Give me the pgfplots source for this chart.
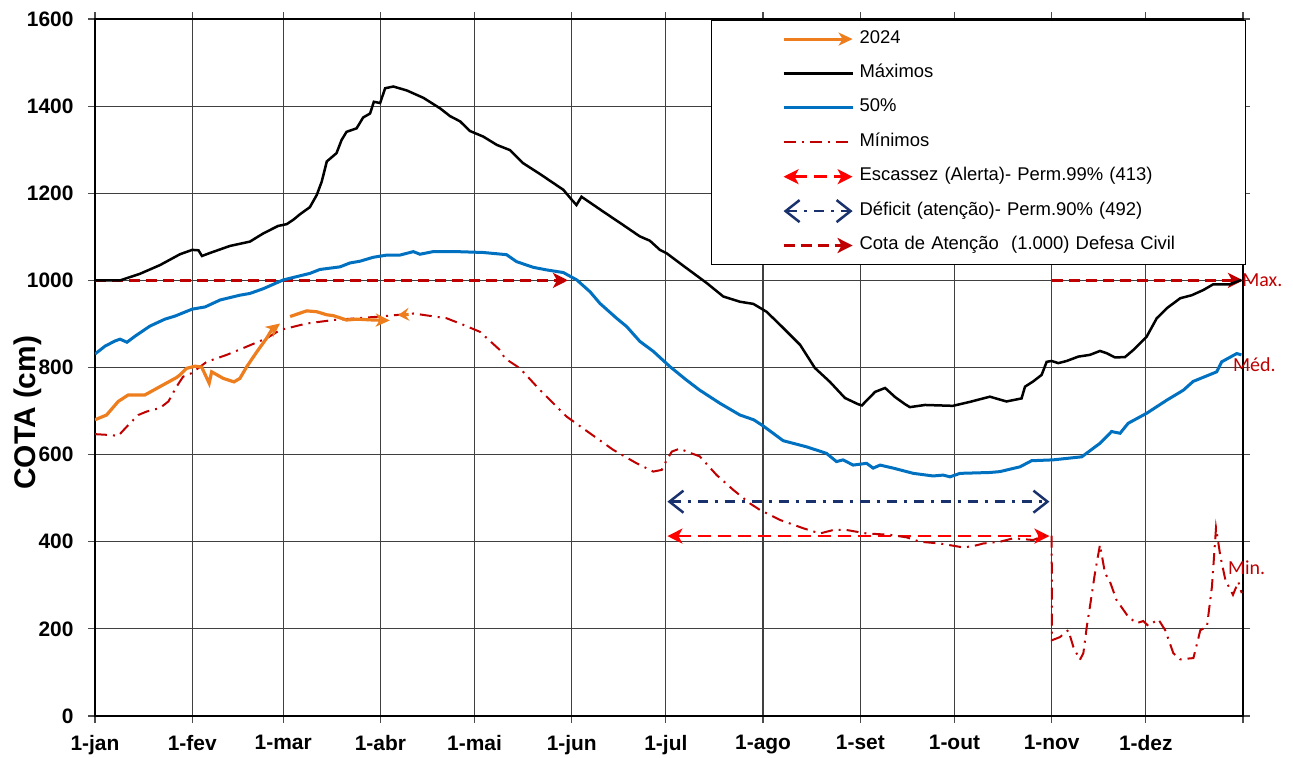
\documentclass[border=0pt]{standalone}
\usepackage{fontspec}
\setmainfont{Liberation Sans}
\newfontfamily\carlito{Carlito}
\usepackage{pgfplots}
\pgfplotsset{compat=1.18}
\usetikzlibrary{arrows.meta}

\definecolor{c24}{RGB}{237,125,29}
\definecolor{cblue}{RGB}{0,112,192}
\definecolor{cmin}{RGB}{192,0,0}
\definecolor{cesc}{RGB}{255,0,0}
\definecolor{cdef}{RGB}{25,50,110}

\pgfplotsset{
  leg/.style={legend image code/.code={%
      \path[draw=none,fill=none] (-60bp,-8bp) rectangle (69bp,8bp);
      \draw[overlay,##1] (0,0) -- (69bp,0);}},
  ar24/.style={-{Stealth[length=14bp,width=13bp,inset=4bp]}},
}

\begin{document}
\begin{tikzpicture}
\begin{axis}[
  scale only axis, width=1148bp, height=697bp,
  xmin=0, xmax=366, ymin=0, ymax=1600,
  xtick={0,31,60,91,121,152,182,213,244,274,305,335,366},
  xticklabels={1-jan,1-fev,1-mar,1-abr,1-mai,1-jun,1-jul,1-ago,1-set,1-out,1-nov,1-dez,},
  ytick={0,200,...,1600},
  grid=major, grid style={line width=1.2bp, black!75},
  axis line style={line width=2.5bp},
  tick align=outside, major tick length=7bp,
  tick style={line width=1.2bp, black!70},
  ticklabel style={font=\bfseries\fontsize{21}{23}\selectfont},
  /pgf/number format/assume math mode=true,
  /pgf/number format/1000 sep={},
  xticklabel style={yshift=-9bp},
  yticklabel style={xshift=-11bp},
  ylabel={COTA (cm)},
  ylabel style={font=\bfseries\fontsize{30}{32}\selectfont,
    at={(axis description cs:-0.0584,0.435)}, anchor=center},
  clip mode=individual,
  legend style={at={(axis description cs:1,1)}, anchor=north east,
    xshift=3bp, yshift=-1bp, draw=black, line width=0.8bp, fill=white,
    inner xsep=12bp, inner ysep=10.7bp, row sep=18.4bp,
    font=\fontsize{18.5}{20}\selectfont,
    nodes={inner sep=0pt, text height=12bp, text depth=4bp,
      text width=374bp, align=left},
    /tikz/every odd column/.append style={column sep=7bp}},
]

% Cota de Atencao (1000) Defesa Civil
\addplot[forget plot, cmin, line width=3bp, dash pattern=on 11bp off 6bp,
  -{Stealth[length=15bp,width=15bp,inset=4bp]}]
  coordinates {(0,1000) (150.8,1000)};
\addplot[forget plot, cmin, line width=3bp, dash pattern=on 11bp off 6bp,
  -{Stealth[length=15bp,width=15bp,inset=4bp]}]
  coordinates {(305,1000) (366,1000)};

% Escassez 413
\addplot[forget plot, cesc, line width=2.5bp, dash pattern=on 13bp off 7bp,
  {Stealth[length=15bp,width=15bp,inset=4bp]}-{Stealth[length=15bp,width=15bp,inset=4bp]}]
  coordinates {(182.5,413) (304.3,413)};

% Deficit 492
\addplot[forget plot, cdef, line width=2.5bp, dash pattern=on 10bp off 7bp on 3bp off 7bp,
  {Straight Barb[length=14bp,width=22bp]}-{Straight Barb[length=14bp,width=22bp]}]
  coordinates {(182.5,492) (304.3,492)};

% Minimos
\addplot[forget plot, cmin, line width=2bp, dash pattern=on 12bp off 6bp on 2bp off 6bp]
  coordinates {
  (0,647) (4.8,645) (7.4,643) (10.1,664) (13.8,691) (16.5,699) (20.7,707)
  (23.4,722) (26,756) (28.1,779) (30.8,787) (35.6,813) (42,829) (48.4,848)
  (54.7,867) (59,886) (67.5,901) (76,909) (90.9,917) (101.5,924) (112.1,913)
  (117.4,898) (122.7,882) (129.1,840) (130.7,821) (135.5,798) (141.9,748)
  (150.4,687) (157.8,649) (165.2,611) (172.7,580) (178,561) (180.7,565)
  (182.3,588) (183.9,607) (186.5,614) (188.6,607) (192.8,596) (198.2,553)
  (203.5,519) (208.8,488) (212,473) (218.4,450) (225.8,431) (231.1,419)
  (235.4,427) (239.6,427) (246,419) (253.4,416) (258.8,410) (263,400)
  (269.4,396) (276.8,387) (280,390) (283.2,396) (288.5,400) (292.8,408)
  (299.1,404) (303.4,416) (305,412) (305.1,174) (307.6,181) (310.3,197)
  (311.9,159) (314,129) (315.1,144) (316.2,205) (317.2,251) (318.8,328)
  (320.4,393) (322,328) (323.6,308) (325.7,266) (329.4,228) (332.1,213)
  (334.2,218) (335.8,207) (339,222) (341.2,197) (343.8,144) (346,130)
  (350.2,133) (352.4,197) (354.5,205) (356.1,297) (357.4,432) (358.8,366)
  (360.4,312) (362.8,278) (364.5,308) (365.6,282)
  };

% 50%
\addplot[forget plot, cblue, line width=3bp]
  coordinates {
  (0,831) (3.2,849) (6.4,861) (8,865) (10.2,858) (12.8,872) (17.5,895)
  (22.3,911) (25.5,918) (31,934) (35.1,939) (39.9,955) (46.2,966) (49.4,970)
  (53.7,981) (60,1001) (68.5,1016) (71.7,1025) (78.1,1031) (81.3,1040)
  (84.5,1044) (88.7,1053) (93,1058) (97.2,1058) (101.5,1066) (103.6,1060)
  (107.8,1066) (115.3,1066) (123.8,1064) (131.2,1059) (134.4,1043)
  (139.7,1030) (144,1024) (149.3,1018) (153.6,1001) (157.8,974) (161,947)
  (166.3,913) (169.5,894) (173.7,860) (178,837) (183.3,802) (188.6,771)
  (192.8,748) (199.2,718) (205.6,691) (210,680) (213,666) (219.4,632)
  (226.8,618) (233.2,603) (236.4,584) (238.5,588) (241.7,576) (246,580)
  (248.1,569) (250.3,576) (254.5,569) (260.9,557) (267.2,551) (270.4,553)
  (272.6,549) (275.8,557) (285.3,559) (288.5,561) (294.9,572) (298.6,586)
  (305.5,588) (314.6,595) (320.4,626) (324.1,653) (326.8,649) (329.4,672)
  (335.3,695) (341.7,725) (347,748) (350.1,768) (357.6,790) (359.2,813)
  (364,832) (365.5,829)
  };

% Maximos
\addplot[forget plot, black, line width=2.5bp]
  coordinates {
  (0,1000) (8,1000) (14.3,1015) (20.7,1035) (27.1,1060) (31,1070) (33,1069)
  (34.1,1056) (36.7,1063) (43,1079) (49.4,1089) (53.7,1108) (58.4,1125)
  (61.1,1129) (63.2,1139) (65.4,1152) (68.5,1168) (70.7,1196) (72.3,1227)
  (73.9,1273) (77,1292) (78.6,1322) (80.2,1341) (83.4,1349) (85.5,1374)
  (87.7,1383) (88.9,1410) (90.9,1407) (92.5,1441) (95.1,1445) (99.4,1436)
  (104.7,1419) (110,1395) (113.2,1377) (116.4,1365) (119.5,1343)
  (123.8,1330) (128.1,1311) (132.3,1299) (136.5,1269) (141.9,1244)
  (149.3,1208) (152,1185) (153.5,1173) (155.1,1192) (162,1158) (168.4,1127)
  (173.7,1101) (176.9,1091) (180.1,1070) (182.3,1062) (188.6,1028) (195,994)
  (200.3,963) (205.6,951) (209.9,946) (214.1,928) (218.4,898) (224.8,852)
  (229.5,799) (234.3,767) (239.1,730) (243.2,716) (244.5,713) (248.7,744)
  (251.9,753) (255.1,732) (258.2,716) (259.8,709) (264.6,714) (273.5,712)
  (278.9,721) (285.3,733) (290.6,722) (295.4,729) (296.5,756) (299.1,768)
  (301.8,783) (303.4,813) (305,815) (307.1,810) (309.8,815) (313.5,825)
  (317.2,829) (320.4,838) (322.5,833) (325.2,823) (328.4,824) (331,840)
  (335.3,871) (338.5,913) (341.7,936) (346,959) (349.7,966) (353.4,978)
  (356.5,991) (361.8,991) (365.5,1001)
  };

% 2024
\addplot[forget plot, c24, line width=3.2bp, ar24]
  coordinates {
  (0,680) (3.7,691) (7.4,722) (10.6,737) (15.9,737) (20.7,756) (26,777)
  (27.1,783) (29.2,798) (31.9,803) (34,801) (36.4,764) (37.2,790)
  (40.9,775) (44.3,767) (46.2,775) (48.4,802) (51.6,836) (54.7,867)
  (56.3,886) (59,901)
  };
\addplot[forget plot, c24, line width=3.2bp, ar24]
  coordinates {
  (62.2,917) (67.5,930) (70.7,928) (73.9,921) (76,919) (80.2,909)
  (83.4,911) (88.7,909) (94,908)
  };
\addplot[forget plot, c24, line width=3.2bp,
  -{Stealth[length=11bp,width=13bp,inset=4bp]}]
  coordinates {(100,922) (96.6,920)};

% legend
\addlegendimage{leg, c24, line width=3bp, ar24}
\addlegendentry{2024}
\addlegendimage{leg, black, line width=2.5bp}
\addlegendentry{Máximos}
\addlegendimage{leg, cblue, line width=3bp}
\addlegendentry{50\%}
\addlegendimage{leg, cmin, line width=2bp, dash pattern=on 12bp off 6bp on 2bp off 6bp}
\addlegendentry{Mínimos}
\addlegendimage{leg, cesc, line width=2.5bp, dash pattern=on 13bp off 7bp,
  {Stealth[length=15bp,width=15bp,inset=4bp]}-{Stealth[length=15bp,width=15bp,inset=4bp]}}
\addlegendentry{Escassez (Alerta)- Perm.99\% (413)}
\addlegendimage{leg, cdef, line width=2.5bp, dash pattern=on 10bp off 7bp on 3bp off 7bp,
  {Straight Barb[length=14bp,width=22bp]}-{Straight Barb[length=14bp,width=22bp]}}
\addlegendentry{Déficit (atenção)- Perm.90\% (492)}
\addlegendimage{leg, cmin, line width=3bp, dash pattern=on 11bp off 6bp,
  -{Stealth[length=15bp,width=15bp,inset=4bp]}}
\addlegendentry{Cota de Atenção\ \ (1.000) Defesa Civil}

% labels at right
\node[anchor=west, inner sep=0pt, text=cmin, font=\carlito\fontsize{20}{22}\selectfont]
  at (axis cs:365.7,1000) {Max.};
\node[anchor=west, inner sep=0pt, text=cmin, font=\carlito\fontsize{20}{22}\selectfont]
  at (axis cs:362.8,806) {Méd.};
\node[anchor=west, inner sep=0pt, text=cmin, font=\carlito\fontsize{20}{22}\selectfont]
  at (axis cs:361.2,340) {Min.};
\end{axis}
\pgfresetboundingbox
\path[use as bounding box] (-95bp,-42bp) rectangle (1198bp,716bp);
\end{tikzpicture}
\end{document}
